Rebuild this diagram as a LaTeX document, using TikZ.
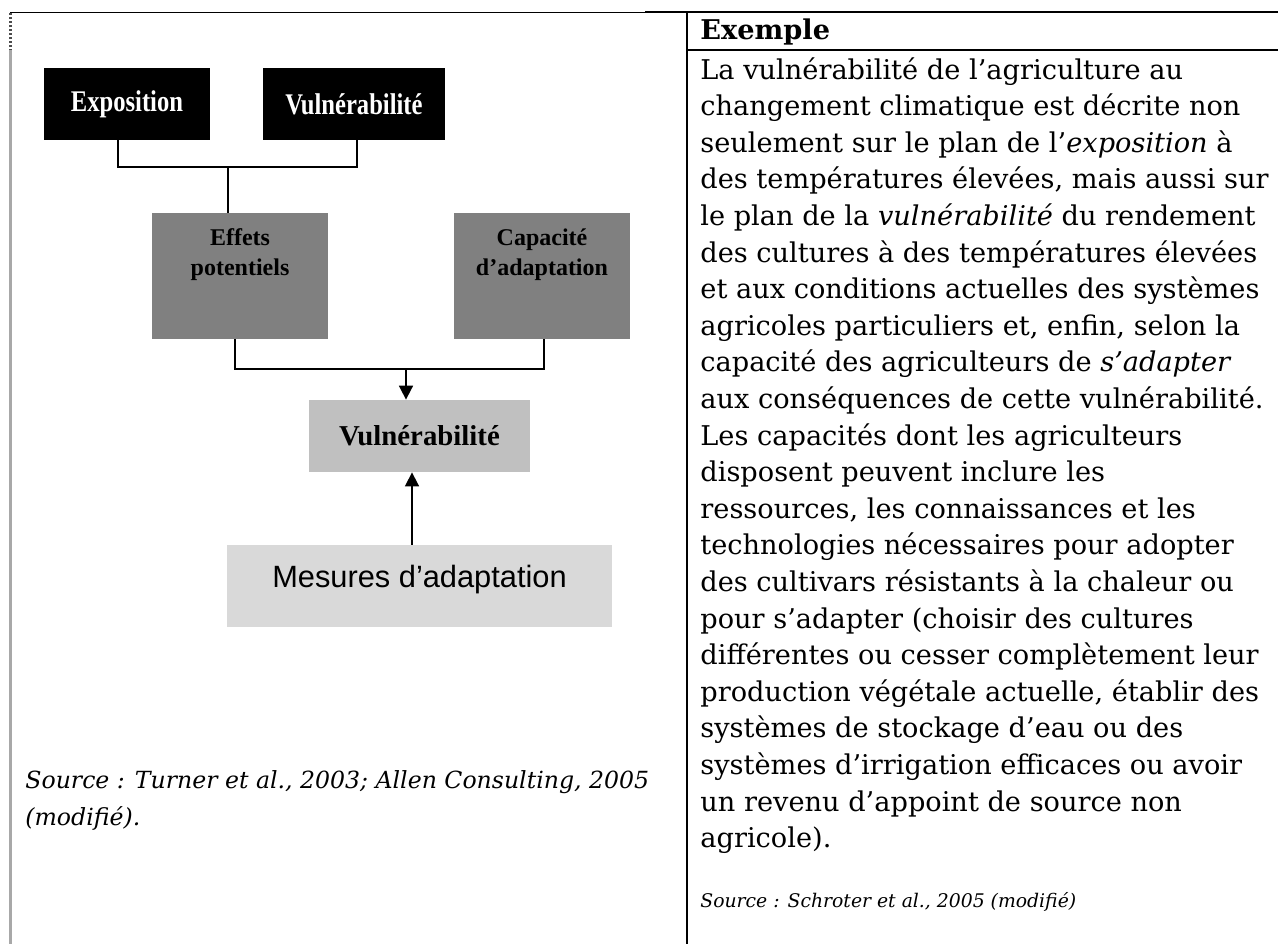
\documentclass[tikz,border=0pt]{standalone}
\usepackage{fontspec}
\setmainfont{DejaVu Serif}
\newfontfamily\boxfont{Liberation Serif}
\newfontfamily\arialfont{Liberation Sans}
\usetikzlibrary{positioning,calc,arrows.meta}

\definecolor{effgray}{HTML}{808080}
\definecolor{vulgray}{HTML}{C0C0C0}
\definecolor{mesgray}{HTML}{D9D9D9}
\definecolor{edgegray}{HTML}{A8A8A8}

\newcommand{\narrowtext}[1]{\scalebox{0.82}[1]{#1}}

\tikzset{
  blackbox/.style={rectangle,fill=black,text=white,minimum height=36pt,
    font=\boxfont\bfseries\fontsize{15}{16}\selectfont},
  greybox/.style={rectangle,fill=effgray,minimum width=88pt,minimum height=63pt},
  boxlabel/.style={align=center,inner sep=0pt,
    font=\boxfont\bfseries\fontsize{12}{15}\selectfont},
  link/.style={draw=black,line width=0.85pt},
  arrowlink/.style={link,-{Triangle[length=7pt,width=7pt]}},
}

\begin{document}
\begin{tikzpicture}[x=0.5pt,y=-0.5pt]
\useasboundingbox (0,0) rectangle (1278,944);
% cadre du tableau
\draw[line width=0.5pt] (10,12) -- (645,12);
\draw[line width=1pt] (645,12) -- (1278,12);
\draw[line width=1pt] (687,12) -- (687,944);
\draw[line width=1pt] (687,50) -- (1278,50);
\draw[black!70,line width=1.5pt,dash pattern=on 1pt off 1pt] (10,13) -- (10,50);
\draw[edgegray,line width=1.5pt] (10,50) -- (10,944);

% schema
\node[blackbox,minimum width=83pt] (expo) at (127,104) {\narrowtext{Exposition}};
\node[blackbox,minimum width=91pt] (vulA) at (354,104) {\narrowtext{Vulnérabilité}};
\node[greybox] (effets) at (240,276) {};
\node[greybox] (capa) at (542,276) {};
\node[boxlabel,below=8pt of effets.north] (effetsL) {Effets\\potentiels};
\node[boxlabel,below=8pt of capa.north] (capaL) {Capacité\\d’adaptation};
\node[rectangle,fill=vulgray,minimum width=110.5pt,minimum height=36pt,
  font=\boxfont\bfseries\fontsize{14.4}{16}\selectfont] (vulB) at (419.5,436) {Vulnérabilité};
\node[rectangle,fill=mesgray,minimum width=192.5pt,minimum height=41pt,
  text height=7pt,text depth=6pt,
  font=\arialfont\fontsize{15.4}{18}\selectfont] (mesures) at (419.5,586) {Mesures d’adaptation};

\coordinate (jtop) at (228,167);
\coordinate (jmid) at (406,369);
\draw[link] ([xshift=-4.5pt]expo.south) |- (jtop) -| ([xshift=1.5pt]vulA.south);
\draw[link] (jtop) -- (jtop |- effets.north);
\draw[link] ([xshift=-2.5pt]effets.south) |- (jmid) -| ([xshift=1pt]capa.south);
\draw[arrowlink] (jmid) -- (jmid |- vulB.north);
\draw[arrowlink] ([xshift=-3.75pt]mesures.north) -- ([xshift=-3.75pt]mesures.north |- vulB.south);

\node[anchor=north west,align=left,inner sep=0pt,
  font=\itshape\fontsize{11.8}{18.5}\selectfont] (srcA) at (25,770)
  {Source : Turner et al., 2003; Allen Consulting, 2005\\(modifié).};

% colonne de droite
\node[anchor=west,inner sep=0pt,font=\bfseries\fontsize{13.6}{18.3}\selectfont] (titre) at (700,32) {Exemple};
\node[anchor=north west,align=left,inner sep=0pt,
  font=\fontsize{13.6}{18.3}\selectfont] (texte) at (700,57)
  {La vulnérabilité de l’agriculture au\\
  changement climatique est décrite non\\
  seulement sur le plan de l’\textit{exposition} à\\
  des températures élevées, mais aussi sur\\
  le plan de la \textit{vulnérabilité} du rendement\\
  des cultures à des températures élevées\\
  et aux conditions actuelles des systèmes\\
  agricoles particuliers et, enfin, selon la\\
  capacité des agriculteurs de \textit{s’adapter}\\
  aux conséquences de cette vulnérabilité.\\
  Les capacités dont les agriculteurs\\
  disposent peuvent inclure les\\
  ressources, les connaissances et les\\
  technologies nécessaires pour adopter\\
  des cultivars résistants à la chaleur ou\\
  pour s’adapter (choisir des cultures\\
  différentes ou cesser complètement leur\\
  production végétale actuelle, établir des\\
  systèmes de stockage d’eau ou des\\
  systèmes d’irrigation efficaces ou avoir\\
  un revenu d’appoint de source non\\
  agricole).};
\node[anchor=west,inner sep=0pt,font=\itshape\fontsize{9.4}{11}\selectfont] (srcB) at (700,902)
  {Source : Schroter et al., 2005 (modifié)};
\end{tikzpicture}
\end{document}
